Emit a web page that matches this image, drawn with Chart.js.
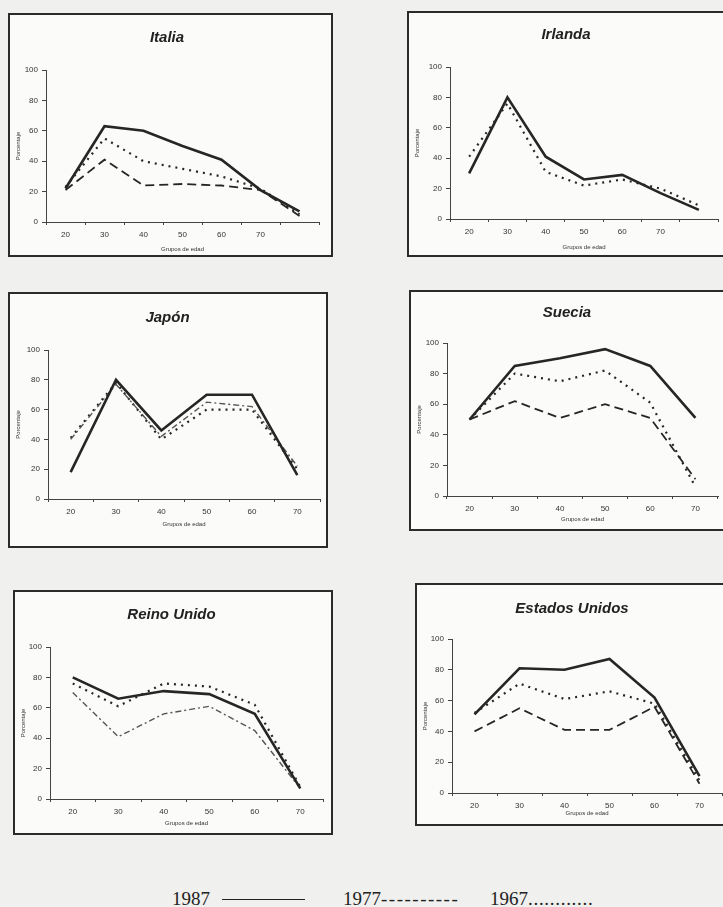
<!DOCTYPE html>
<html lang="es">
<head>
<meta charset="utf-8">
<title>Porcentaje por grupos de edad</title>
<script src="https://cdn.jsdelivr.net/npm/chart.js@4"></script>
<style>
  html, body { margin: 0; padding: 0; }
  body { width: 723px; height: 907px; position: relative; overflow: hidden; background: #f0f0ee; }
  .box { position: absolute; box-sizing: border-box; border: 2px solid #2b2b2b; background: #fbfbfa; }
  .box canvas { position: absolute; left: 0; top: 0; }
  .leg { position: absolute; top: 889px; font-family: 'Liberation Serif', 'Times New Roman', serif;
         font-size: 19px; line-height: 19px; color: #222; white-space: pre; }
  .leg-line { position: absolute; top: 899px; left: 222px; width: 83px; height: 0; border-top: 1.5px solid #222; }
</style>
</head>
<body>
<div class="leg" style="left:172px">1987</div>
<div class="leg-line"></div>
<div class="leg" style="left:343px">1977<span style="letter-spacing:1.5px">----------</span></div>
<div class="leg" style="left:490px">1967<span style="letter-spacing:0.7px">............</span></div>
<script>
// age groups (Italia and Irlanda have one more, unlabelled, point)
const edades7 = ['20', '30', '40', '50', '60', '70', ''];
const edades6 = ['20', '30', '40', '50', '60', '70'];
const yTicks = [0, 20, 40, 60, 80, 100];

const italia1987 = [22, 63, 60, 50, 41, 21, 7];
const italia1977 = [21, 41, 24, 25, 24, 21, 4];
const italia1967 = [23, 55, 40, 35, 30, 22, 5];

const irlanda1987 = [30, 80, 41, 26, 29, 17, 6];
const irlanda1967 = [41, 76, 31, 22, 26, 20, 9];

const japon1987 = [18, 80, 46, 70, 70, 16];
const japon1977 = [40, 77, 42, 65, 62, 22];
const japon1967 = [41, 78, 40, 60, 60, 20];

const suecia1987 = [50, 85, 90, 96, 85, 51];
const suecia1977 = [50, 62, 51, 60, 51, 11];
const suecia1967 = [50, 80, 75, 82, 61, 6];

const reino1987 = [80, 66, 71, 69, 56, 7];
const reino1977 = [70, 41, 56, 61, 45, 7];
const reino1967 = [76, 61, 76, 74, 62, 8];

const eeuu1987 = [51, 81, 80, 87, 62, 11];
const eeuu1977 = [40, 55, 41, 41, 56, 6];
const eeuu1967 = [52, 71, 61, 66, 58, 8];

const SANS = "'Liberation Sans', Arial, sans-serif";
const INK = '#262626';
const BORDER = 2;

const solid = { borderWidth: 2.6, borderDash: [] };
const dashed = { borderWidth: 1.8, borderDash: [9, 5] };
const dashDot = { borderWidth: 1.4, borderDash: [6, 3, 2, 3], borderColor: '#555' };
const dotted = { borderWidth: 2.2, borderDash: [2, 5] };

function line(label, data, style) {
    return Object.assign({
        label: label, data: data, borderColor: INK, pointRadius: 0,
        tension: 0, fill: false, borderCapStyle: 'butt'
    }, style);
}

function makeChart(name, labels, series, g) {
    const [x0, y0, x1, y1] = g.box;
    const box = document.createElement('div');
    box.className = 'box';
    Object.assign(box.style, { left: x0 + 'px', top: y0 + 'px', width: (x1 - x0) + 'px', height: (y1 - y0) + 'px' });
    document.body.appendChild(box);

    const W = x1 - x0 - 2 * BORDER, H = y1 - y0 - 2 * BORDER;
    const cv = document.createElement('canvas');
    cv.width = W; cv.height = H;
    cv.style.width = W + 'px'; cv.style.height = H + 'px';
    box.appendChild(cv);

    const cx = x0 + BORDER, cy = y0 + BORDER;
    const pl = g.plot[0] - cx, pt = g.plot[1] - cy, pr = g.plot[2] - cx, pb = g.plot[3] - cy;
    const titleSize = 15, titleLH = titleSize * 1.2;
    const padT = g.title - cy - titleLH / 2;
    const titleGap = pt - padT - titleLH;
    const padL = 5;
    const wy = pl - padL;
    const hx = g.grupos - cy + 3.6 - pb;
    const padB = H - pb - hx;
    const padR = W - pr;

    new Chart(cv.getContext('2d'), {
        type: 'line',
        data: { labels: labels, datasets: series },
        options: {
            responsive: false,
            animation: false,
            layout: { padding: { left: padL, top: padT, right: padR, bottom: padB } },
            plugins: {
                legend: { display: false },
                tooltip: { enabled: false },
                title: {
                    display: true, text: name, color: '#222',
                    font: { family: SANS, size: titleSize, weight: 'bold', style: 'italic' },
                    padding: { top: 0, bottom: titleGap }
                }
            },
            scales: {
                x: {
                    type: 'category', offset: true,
                    grid: { offset: true, drawOnChartArea: false, tickLength: 3, color: '#444' },
                    border: { color: '#444', width: 1 },
                    ticks: { font: { family: SANS, size: 8 }, color: '#333', padding: 5, maxRotation: 0, autoSkip: false },
                    title: { display: true, text: 'Grupos de edad', font: { family: SANS, size: 6 }, color: '#333', padding: 0 },
                    afterFit: s => { s.height = hx; }
                },
                y: {
                    min: 0, max: 100,
                    afterBuildTicks: s => { s.ticks = yTicks.map(v => ({ value: v })); },
                    grid: { drawOnChartArea: false, tickLength: 4, color: '#444' },
                    border: { color: '#444', width: 1 },
                    ticks: { font: { family: SANS, size: 8 }, color: '#333', padding: 4 },
                    title: { display: true, text: 'Porcentaje', font: { family: SANS, size: 6 }, color: '#333', padding: 0 },
                    afterFit: s => { s.width = wy; }
                }
            }
        }
    });
}

makeChart('Italia', edades7, [
    line('1987', italia1987, solid),
    line('1977', italia1977, dashed),
    line('1967', italia1967, dotted)
], { box: [8, 13, 333, 257], title: 38, plot: [46, 70, 319, 222], grupos: 249 });

makeChart('Irlanda', edades7, [
    line('1987', irlanda1987, solid),
    line('1967', irlanda1967, dotted)
], { box: [407, 11, 728, 257], title: 35, plot: [450, 67, 718, 219], grupos: 247 });

makeChart('Japón', edades6, [
    line('1987', japon1987, solid),
    line('1977', japon1977, dashDot),
    line('1967', japon1967, dotted)
], { box: [8, 292, 328, 548], title: 318, plot: [48, 350, 320, 499], grupos: 524 });

makeChart('Suecia', edades6, [
    line('1987', suecia1987, solid),
    line('1977', suecia1977, dashed),
    line('1967', suecia1967, dotted)
], { box: [409, 290, 728, 531], title: 313, plot: [447, 343, 718, 496], grupos: 519 });

makeChart('Reino Unido', edades6, [
    line('1987', reino1987, solid),
    line('1977', reino1977, dashDot),
    line('1967', reino1967, dotted)
], { box: [13, 590, 333, 835], title: 615, plot: [50, 647, 323, 799], grupos: 823 });

makeChart('Estados Unidos', edades6, [
    line('1987', eeuu1987, solid),
    line('1977', eeuu1977, dashed),
    line('1967', eeuu1967, dotted)
], { box: [415, 583, 728, 826], title: 609, plot: [452, 639, 722, 793], grupos: 813 });
</script>
</body>
</html>
